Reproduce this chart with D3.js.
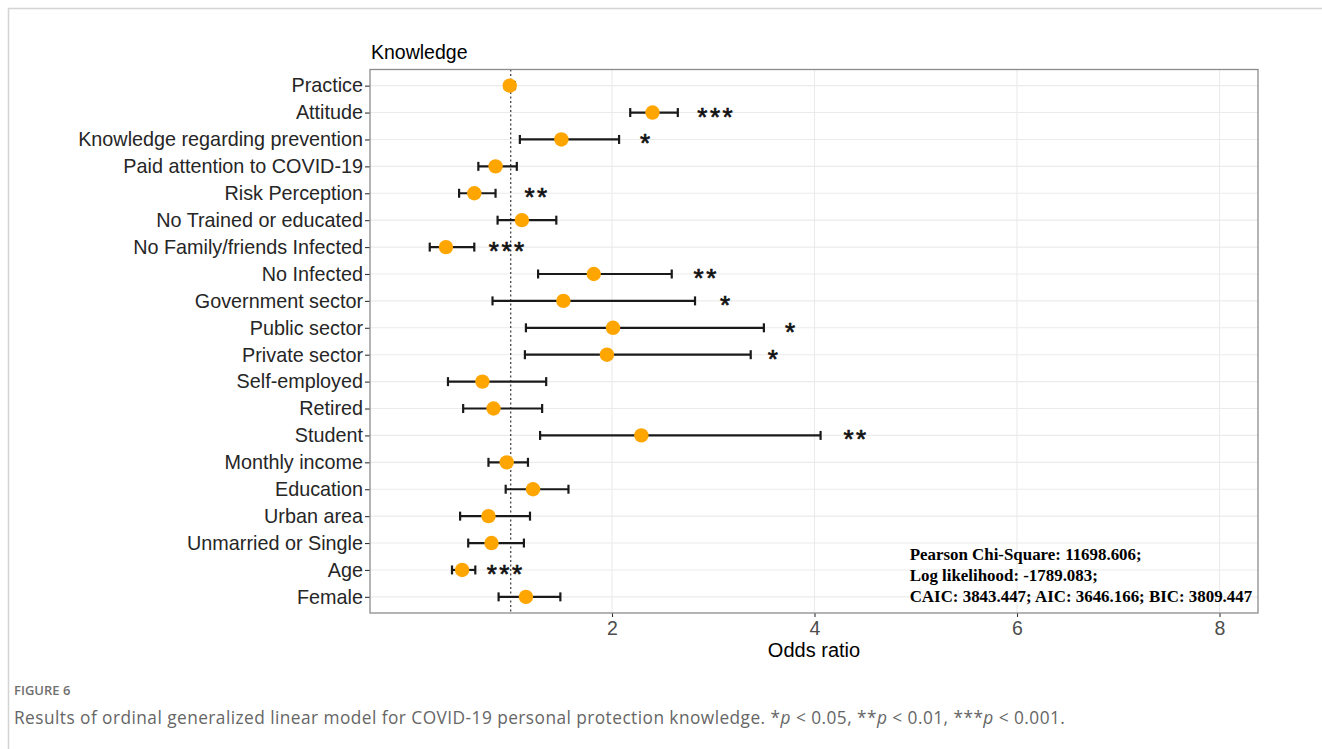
<!DOCTYPE html>
<html>
<head>
<meta charset="utf-8">
<script src="https://cdn.jsdelivr.net/npm/d3@7"></script>
<style>
  html, body { margin: 0; padding: 0; background: #fff; }
  svg { display: block; }
</style>
</head>
<body>
<svg id="chart"></svg>
<script>
// variables, top to bottom
let vars = ['Practice', 'Attitude', 'Knowledge regarding prevention', 'Paid attention to COVID-19',
  'Risk Perception', 'No Trained or educated', 'No Family/friends Infected', 'No Infected',
  'Government sector', 'Public sector', 'Private sector', 'Self-employed', 'Retired', 'Student',
  'Monthly income', 'Education', 'Urban area', 'Unmarried or Single', 'Age', 'Female'];
let oddsRatio = [0.99, 2.40, 1.50, 0.85, 0.64, 1.11, 0.36, 1.82, 1.52, 2.01, 1.95, 0.72, 0.83, 2.29,
  0.96, 1.22, 0.78, 0.81, 0.52, 1.15];
let lower = [0.96, 2.18, 1.09, 0.68, 0.49, 0.87, 0.20, 1.27, 0.82, 1.15, 1.14, 0.38, 0.53, 1.29,
  0.78, 0.95, 0.50, 0.58, 0.42, 0.88];
let upper = [1.04, 2.65, 2.07, 1.06, 0.85, 1.45, 0.64, 2.59, 2.82, 3.50, 3.37, 1.35, 1.31, 4.06,
  1.17, 1.57, 1.19, 1.13, 0.65, 1.49];
let stars = ['', '***', '*', '', '**', '', '***', '**', '*', '*', '*', '', '', '**',
  '', '', '', '', '***', ''];
let starAt = [0, 3.03, 2.34, 0, 1.26, 0, 0.97, 2.93, 3.13, 3.77, 3.60, 0, 0, 4.41,
  0, 0, 0, 0, 0.95, 0];
let xTicks = [2, 4, 6, 8];
let fitStats = ['Pearson Chi-Square: 11698.606;', 'Log likelihood: -1789.083;',
  'CAIC: 3843.447; AIC: 3646.166; BIC: 3809.447'];

const W = 1322, H = 749;
const mar = { top: 69.5, right: 64, bottom: 136, left: 370 };
const w = W - mar.left - mar.right;
const h = H - mar.top - mar.bottom;

let svg = d3.select('#chart').attr('width', W).attr('height', H);

// outer frame of the figure page
svg.append('path')
  .attr('d', 'M8.5,' + H + ' V8.5 H' + W)
  .attr('fill', 'none').attr('stroke', '#d4d4d4').attr('stroke-width', 1.5);

let g = svg.append('g').attr('transform', 'translate(' + mar.left + ',' + mar.top + ')');

const x = d3.scaleLinear().domain([-0.39, 8.38]).range([0, w]);
const y = d3.scalePoint().domain(vars).range([0, h]).padding(0.6);

// grid
g.append('g').selectAll('line').data(vars).enter().append('line')
  .attr('x1', 0).attr('x2', w)
  .attr('y1', d => y(d)).attr('y2', d => y(d))
  .attr('stroke', '#ebebeb').attr('stroke-width', 1.1);
g.append('g').selectAll('line').data(xTicks).enter().append('line')
  .attr('x1', d => x(d)).attr('x2', d => x(d))
  .attr('y1', 0).attr('y2', h)
  .attr('stroke', '#ebebeb').attr('stroke-width', 1.1);

// reference line at OR = 1
g.append('line')
  .attr('x1', x(1)).attr('x2', x(1)).attr('y1', 0).attr('y2', h)
  .attr('stroke', '#222').attr('stroke-width', 1.1).attr('stroke-dasharray', '2,2.5');

// axes
let yAxis = g.append('g').call(d3.axisLeft(y).tickSize(5).tickPadding(2));
yAxis.select('.domain').remove();
yAxis.selectAll('line').attr('stroke', '#333').attr('stroke-width', 1.1);
yAxis.selectAll('text').attr('fill', '#262626')
  .style('font-family', '"Liberation Sans", Arial, sans-serif').style('font-size', '19.8px');

let xAxis = g.append('g').attr('transform', 'translate(0,' + h + ')')
  .call(d3.axisBottom(x).tickValues(xTicks).tickFormat(d3.format('d')).tickSize(4).tickPadding(4));
xAxis.select('.domain').remove();
xAxis.selectAll('line').attr('stroke', '#333').attr('stroke-width', 1.1);
xAxis.selectAll('text').attr('fill', '#4d4d4d')
  .style('font-family', '"Liberation Sans", Arial, sans-serif').style('font-size', '19.5px');

// panel border
g.append('rect').attr('width', w).attr('height', h)
  .attr('fill', 'none').attr('stroke', '#8c8c8c').attr('stroke-width', 1.3);

// error bars
let rows = vars.map((v, i) => ({ v, or: oddsRatio[i], lo: lower[i], hi: upper[i], s: stars[i], sx: starAt[i] }));
let bars = g.append('g').selectAll('g').data(rows).enter().append('g')
  .attr('stroke', '#1a1a1a').attr('stroke-width', 2.2);
bars.append('line')
  .attr('x1', d => x(d.lo)).attr('x2', d => x(d.hi))
  .attr('y1', d => y(d.v)).attr('y2', d => y(d.v));
bars.append('line')
  .attr('x1', d => x(d.lo)).attr('x2', d => x(d.lo))
  .attr('y1', d => y(d.v) - 4.5).attr('y2', d => y(d.v) + 4.5);
bars.append('line')
  .attr('x1', d => x(d.hi)).attr('x2', d => x(d.hi))
  .attr('y1', d => y(d.v) - 4.5).attr('y2', d => y(d.v) + 4.5);

// points
g.append('g').selectAll('circle').data(rows).enter().append('circle')
  .attr('cx', d => x(d.or)).attr('cy', d => y(d.v)).attr('r', 7.2)
  .attr('fill', '#ffa500');

// significance stars
g.append('g').selectAll('text').data(rows.filter(d => d.s)).enter().append('text')
  .attr('x', d => x(d.sx)).attr('y', d => y(d.v) + 13)
  .attr('text-anchor', 'middle')
  .attr('fill', '#111').attr('stroke', '#111').attr('stroke-width', 0.7)
  .style('font-family', '"Liberation Sans", Arial, sans-serif')
  .style('font-size', '26px').style('letter-spacing', '2.5px')
  .text(d => d.s);

// model fit statistics
g.append('g').selectAll('text').data(fitStats).enter().append('text')
  .attr('x', x(4.94)).attr('y', (d, i) => y('Age') - 10 + i * 20.8)
  .attr('fill', '#000')
  .style('font-family', '"Liberation Serif", "Times New Roman", serif')
  .style('font-weight', 'bold').style('font-size', '16.9px')
  .text(d => d);

// title and axis title
svg.append('text').attr('x', mar.left + 1).attr('y', 59)
  .style('font-family', '"Liberation Sans", Arial, sans-serif').style('font-size', '19.5px')
  .attr('fill', '#000').text('Knowledge');
svg.append('text').attr('x', mar.left + w / 2).attr('y', 657)
  .attr('text-anchor', 'middle')
  .style('font-family', '"Liberation Sans", Arial, sans-serif').style('font-size', '20px')
  .attr('fill', '#000').text('Odds ratio');

// caption
svg.append('text').attr('x', 14).attr('y', 695)
  .style('font-family', '"Open Sans", Lato, sans-serif').style('font-size', '13px')
  .style('font-weight', '600').attr('fill', '#707070').text('FIGURE 6');
let cap = svg.append('text').attr('x', 14).attr('y', 724)
  .style('font-family', '"Open Sans", Lato, sans-serif').style('font-size', '17.3px')
  .style('letter-spacing', '0.45px')
  .attr('fill', '#666');
cap.append('tspan').text('Results of ordinal generalized linear model for COVID-19 personal protection knowledge. *');
cap.append('tspan').style('font-style', 'italic').text('p');
cap.append('tspan').text(' < 0.05, **');
cap.append('tspan').style('font-style', 'italic').text('p');
cap.append('tspan').text(' < 0.01, ***');
cap.append('tspan').style('font-style', 'italic').text('p');
cap.append('tspan').text(' < 0.001.');
</script>
</body>
</html>
